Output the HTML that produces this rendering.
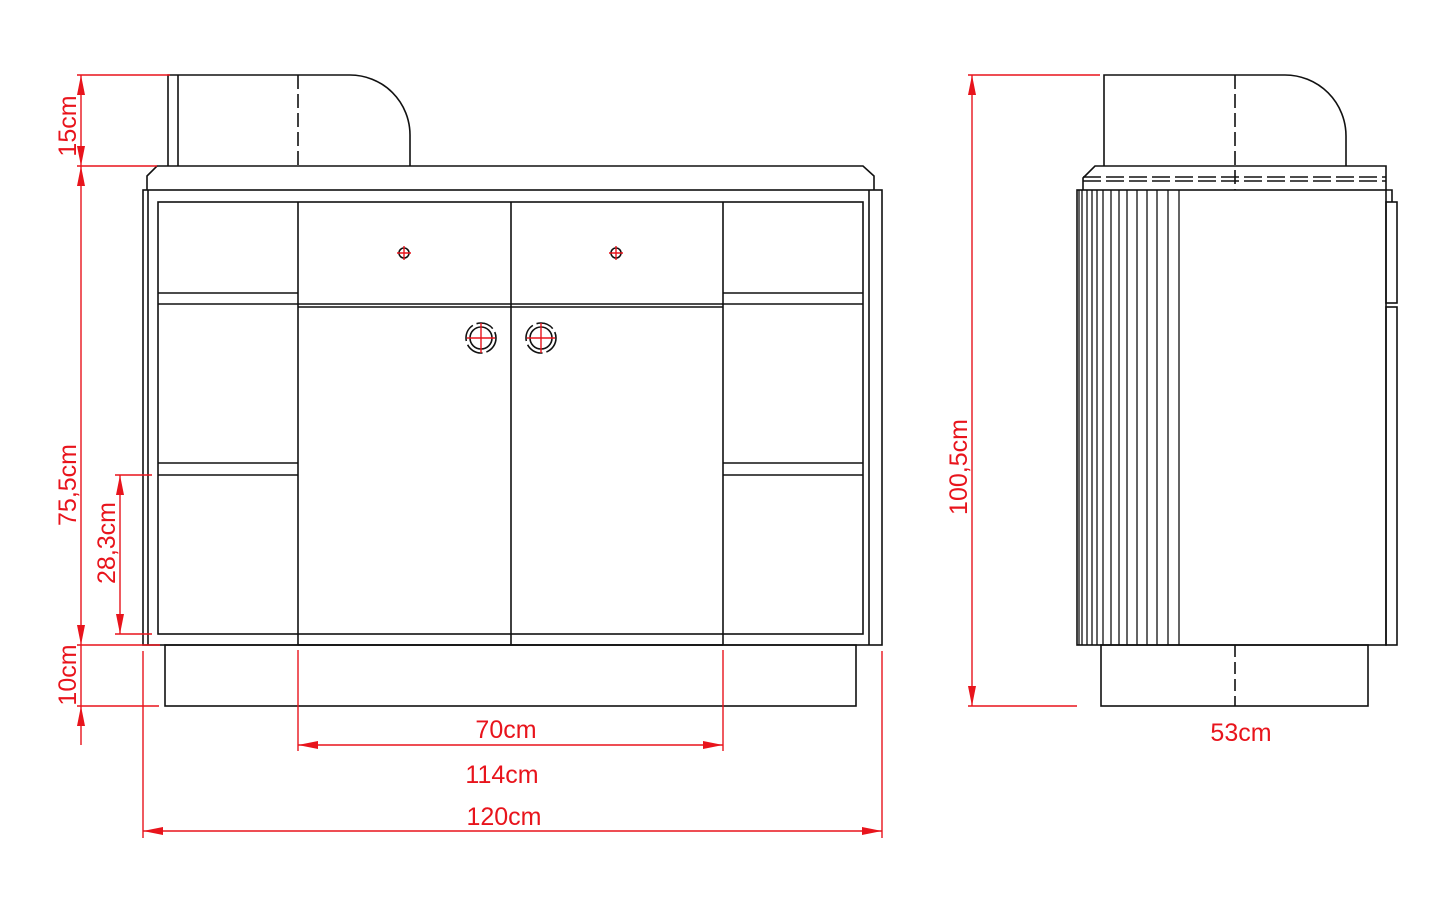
<!DOCTYPE html>
<html><head><meta charset="utf-8"><style>
html,body{margin:0;padding:0;background:#fff;}
svg{display:block}
text{font-family:"Liberation Sans",sans-serif;font-size:25px;fill:#e8141c;}
</style></head><body>
<svg width="1444" height="898" viewBox="0 0 1444 898" xmlns="http://www.w3.org/2000/svg">
<defs>
<marker id="a" viewBox="0 0 20 8" refX="20" refY="4" markerWidth="20" markerHeight="8" markerUnits="userSpaceOnUse" orient="auto-start-reverse"><path d="M0,0L20,4L0,8z" fill="#e8141c"/></marker>
</defs>
<g fill="none" stroke="#111" stroke-width="1.6">
<path d="M168,166V75H350A60,60 0 0 1 410,135V166"/>
<line x1="178" y1="75" x2="178" y2="166"/>
<line x1="298" y1="75" x2="298" y2="166" stroke-dasharray="14,5"/>
<path d="M147,190V176L157,166H863L874,176V190"/>
<rect x="143" y="190" width="739" height="455"/>
<line x1="148" y1="190" x2="148" y2="645"/>
<line x1="869" y1="190" x2="869" y2="645"/>
<rect x="158" y="202" width="705" height="432"/>
<line x1="298" y1="202" x2="298" y2="645"/>
<line x1="723" y1="202" x2="723" y2="645"/>
<line x1="511" y1="202" x2="511" y2="645"/>
<line x1="298" y1="304" x2="723" y2="304"/>
<line x1="298" y1="307" x2="723" y2="307"/>
<line x1="158" y1="293" x2="298" y2="293"/>
<line x1="158" y1="304" x2="298" y2="304"/>
<line x1="158" y1="463" x2="298" y2="463"/>
<line x1="158" y1="475" x2="298" y2="475"/>
<line x1="723" y1="293" x2="863" y2="293"/>
<line x1="723" y1="304" x2="863" y2="304"/>
<line x1="723" y1="463" x2="863" y2="463"/>
<line x1="723" y1="475" x2="863" y2="475"/>
<line x1="298" y1="645" x2="723" y2="645"/>
<rect x="165" y="645" width="691" height="61"/>
<circle cx="404" cy="253" r="5"/>
<circle cx="616" cy="253" r="5"/>
<circle cx="481" cy="338" r="11"/>
<circle cx="541" cy="338" r="11"/>
<circle cx="481" cy="338" r="15" stroke-dasharray="18,4"/>
<circle cx="541" cy="338" r="15" stroke-dasharray="18,4"/>
<path d="M1104,166V75H1285A61,61 0 0 1 1346,136V166"/>
<line x1="1235" y1="75" x2="1235" y2="190" stroke-dasharray="14,5"/>
<path d="M1083,190V178L1095,166H1386V190"/>
<line x1="1083" y1="177" x2="1386" y2="177" stroke-dasharray="18,5"/>
<line x1="1083" y1="181" x2="1386" y2="181" stroke-dasharray="18,5"/>
<rect x="1077" y="190" width="309" height="455"/>
<path d="M1386,190H1392V202"/>
<rect x="1386" y="202" width="11" height="101"/>
<rect x="1386" y="307" width="11" height="338"/>
<g stroke-width="1.3">
<line x1="1079" y1="190" x2="1079" y2="645"/><line x1="1082" y1="190" x2="1082" y2="645"/>
<line x1="1087" y1="190" x2="1087" y2="645"/><line x1="1092" y1="190" x2="1092" y2="645"/>
<line x1="1097" y1="190" x2="1097" y2="645"/><line x1="1103" y1="190" x2="1103" y2="645"/>
<line x1="1111" y1="190" x2="1111" y2="645"/><line x1="1119" y1="190" x2="1119" y2="645"/>
<line x1="1127" y1="190" x2="1127" y2="645"/><line x1="1137" y1="190" x2="1137" y2="645"/>
<line x1="1147" y1="190" x2="1147" y2="645"/><line x1="1157" y1="190" x2="1157" y2="645"/>
<line x1="1168" y1="190" x2="1168" y2="645"/><line x1="1179" y1="190" x2="1179" y2="645"/>
</g>
<rect x="1101" y="645" width="267" height="61"/>
<line x1="1235" y1="645" x2="1235" y2="706" stroke-dasharray="12,5"/>
</g>
<g stroke="#e8141c" stroke-width="1.4" fill="none">
<path d="M404,246V260M397,253H411M616,246V260M609,253H623"/>
<path d="M481,323V353M467,338H495M541,323V353M527,338H555"/>
<line x1="81" y1="75" x2="81" y2="166" marker-start="url(#a)" marker-end="url(#a)"/>
<line x1="81" y1="166" x2="81" y2="645" marker-start="url(#a)" marker-end="url(#a)"/>
<line x1="81" y1="645" x2="81" y2="706"/>
<line x1="81" y1="706" x2="81" y2="745" marker-start="url(#a)"/>
<line x1="77" y1="75" x2="170" y2="75"/>
<line x1="77" y1="166" x2="157" y2="166"/>
<line x1="77" y1="645" x2="160" y2="645"/>
<line x1="77" y1="706" x2="159" y2="706"/>
<line x1="120" y1="475" x2="120" y2="634" marker-start="url(#a)" marker-end="url(#a)"/>
<line x1="115" y1="475" x2="152" y2="475"/>
<line x1="115" y1="634" x2="152" y2="634"/>
<line x1="298" y1="650" x2="298" y2="751"/>
<line x1="723" y1="650" x2="723" y2="751"/>
<line x1="298" y1="745" x2="723" y2="745" marker-start="url(#a)" marker-end="url(#a)"/>
<line x1="143" y1="651" x2="143" y2="838"/>
<line x1="882" y1="651" x2="882" y2="838"/>
<line x1="143" y1="831" x2="882" y2="831" marker-start="url(#a)" marker-end="url(#a)"/>
<line x1="972" y1="75" x2="972" y2="706" marker-start="url(#a)" marker-end="url(#a)"/>
<line x1="968" y1="75" x2="1100" y2="75"/>
<line x1="968" y1="706" x2="1077" y2="706"/>
</g>
<text x="0" y="0" text-anchor="middle" transform="translate(76,126) rotate(-90)">15cm</text>
<text x="0" y="0" text-anchor="middle" transform="translate(76,485) rotate(-90)">75,5cm</text>
<text x="0" y="0" text-anchor="middle" transform="translate(76,675) rotate(-90)">10cm</text>
<text x="0" y="0" text-anchor="middle" transform="translate(115,543) rotate(-90)">28,3cm</text>
<text x="0" y="0" text-anchor="middle" transform="translate(967,467) rotate(-90)">100,5cm</text>
<text x="506" y="738" text-anchor="middle">70cm</text>
<text x="502" y="783" text-anchor="middle">114cm</text>
<text x="504" y="825" text-anchor="middle">120cm</text>
<text x="1241" y="741" text-anchor="middle">53cm</text>
</svg>
</body></html>
